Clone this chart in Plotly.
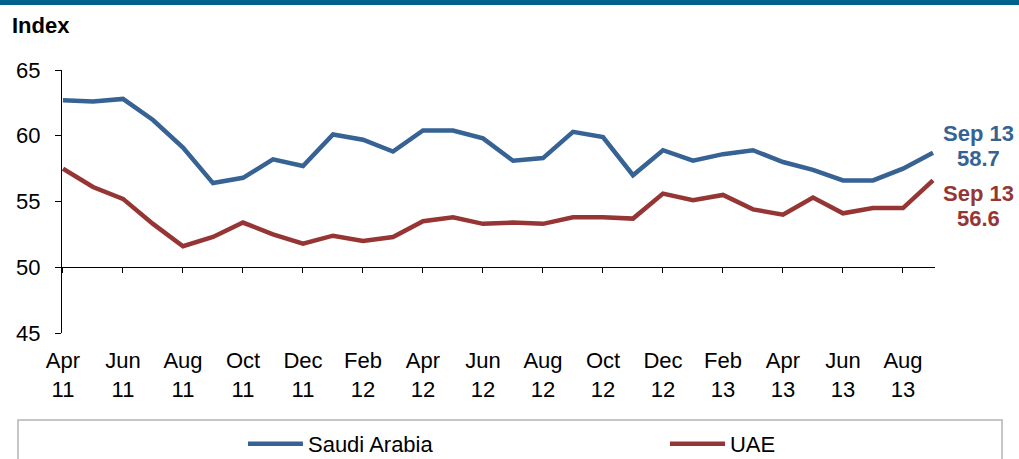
import plotly.graph_objects as go

months = ["Apr 11", "May 11", "Jun 11", "Jul 11", "Aug 11", "Sep 11", "Oct 11", "Nov 11", "Dec 11",
          "Jan 12", "Feb 12", "Mar 12", "Apr 12", "May 12", "Jun 12", "Jul 12", "Aug 12", "Sep 12",
          "Oct 12", "Nov 12", "Dec 12", "Jan 13", "Feb 13", "Mar 13", "Apr 13", "May 13", "Jun 13",
          "Jul 13", "Aug 13", "Sep 13"]

saudi = [62.7, 62.6, 62.8, 61.2, 59.1, 56.4, 56.8, 58.2, 57.7, 60.1, 59.7, 58.8, 60.4, 60.4, 59.8,
         58.1, 58.3, 60.3, 59.9, 57.0, 58.9, 58.1, 58.6, 58.9, 58.0, 57.4, 56.6, 56.6, 57.5, 58.7]

uae = [57.5, 56.1, 55.2, 53.3, 51.6, 52.3, 53.4, 52.5, 51.8, 52.4, 52.0, 52.3, 53.5, 53.8, 53.3,
       53.4, 53.3, 53.8, 53.8, 53.7, 55.6, 55.1, 55.5, 54.4, 54.0, 55.3, 54.1, 54.5, 54.5, 56.6]

tick_months = months[::2]
tick_text = [m.replace(" ", "<br>") for m in tick_months]
y_ticks = [45, 50, 55, 60, 65]

BLUE = "#366394"
RED = "#963634"
FONT = "Liberation Sans, Arial, sans-serif"

fig = go.Figure()
fig.add_trace(go.Scatter(x=months, y=saudi, mode="lines", name="Saudi Arabia",
                         line=dict(color=BLUE, width=4.5), legend="legend"))
fig.add_trace(go.Scatter(x=months, y=uae, mode="lines", name="UAE",
                         line=dict(color=RED, width=4.5), legend="legend2"))

xr = [-0.033, 29.067]

leg_common = dict(orientation="h", xanchor="left", yref="container", y=0.0327, yanchor="middle",
                  font=dict(size=22, color="black"), itemwidth=55,
                  bgcolor="rgba(0,0,0,0)", borderwidth=0)

fig.update_layout(
    width=1019, height=459,
    margin=dict(l=62, r=84, t=70, b=126, autoexpand=False),
    paper_bgcolor="white", plot_bgcolor="white",
    font=dict(family=FONT, size=22, color="black"),
    showlegend=True,
    legend=dict(x=0.2073, **leg_common),
    legend2=dict(x=0.6907, **leg_common),
    xaxis=dict(type="category", categoryorder="array", categoryarray=months,
               range=xr, tickvals=tick_months, ticktext=tick_text,
               showline=False, ticks="", showgrid=False, zeroline=False,
               tickfont=dict(size=22), ticklabelstandoff=12),
    xaxis2=dict(type="category", categoryorder="array", categoryarray=months,
                overlaying="x", anchor="free", position=0.25, matches="x",
                range=xr, tickvals=tick_months, showticklabels=False,
                showline=True, linecolor="black", linewidth=1.3,
                ticks="outside", ticklen=5, tickcolor="black", tickwidth=1.3,
                showgrid=False, zeroline=False),
    yaxis=dict(range=[45, 65], tickvals=y_ticks, showline=True, linecolor="black",
               linewidth=1.3, ticks="outside", ticklen=6, tickcolor="black", tickwidth=1.3,
               showgrid=False, zeroline=False, tickfont=dict(size=22),
               ticklabelstandoff=10),
)

# invisible trace to bind the crossing axis
fig.add_trace(go.Scatter(x=months, y=saudi, xaxis="x2", yaxis="y", mode="lines",
                         line=dict(width=0), opacity=0, showlegend=False, hoverinfo="skip"))

shapes = [
    dict(type="rect", xref="paper", yref="paper", x0=-0.08, x1=1.12, y0=1.247, y1=1.3,
         fillcolor="#00628B", line=dict(width=0), layer="above"),
    dict(type="rect", xref="paper", yref="paper", x0=-0.0504, x1=1.0768, y0=-0.50, y1=-0.3308,
         fillcolor="rgba(0,0,0,0)", line=dict(color="#B4B4B4", width=1.5)),
]
fig.update_layout(shapes=shapes)

annotations = [
    dict(text="<b>Index</b>", xref="paper", yref="paper", x=-0.0596, y=1.168,
         xanchor="left", yanchor="middle", showarrow=False, font=dict(size=22, color="black")),
    dict(text="<b>Sep 13</b>", xref="paper", yref="paper", x=1.0504, y=0.7593,
         xanchor="center", yanchor="middle", showarrow=False, font=dict(size=22, color=BLUE)),
    dict(text="<b>58.7</b>", xref="paper", yref="paper", x=1.0504, y=0.6643,
         xanchor="center", yanchor="middle", showarrow=False, font=dict(size=22, color=BLUE)),
    dict(text="<b>Sep 13</b>", xref="paper", yref="paper", x=1.0504, y=0.5312,
         xanchor="center", yanchor="middle", showarrow=False, font=dict(size=22, color=RED)),
    dict(text="<b>56.6</b>", xref="paper", yref="paper", x=1.0504, y=0.4361,
         xanchor="center", yanchor="middle", showarrow=False, font=dict(size=22, color=RED)),
]
fig.update_layout(annotations=annotations)

fig.write_html("out.html", config={"displayModeBar": False},
               post_script="document.body.style.margin='0px';")
